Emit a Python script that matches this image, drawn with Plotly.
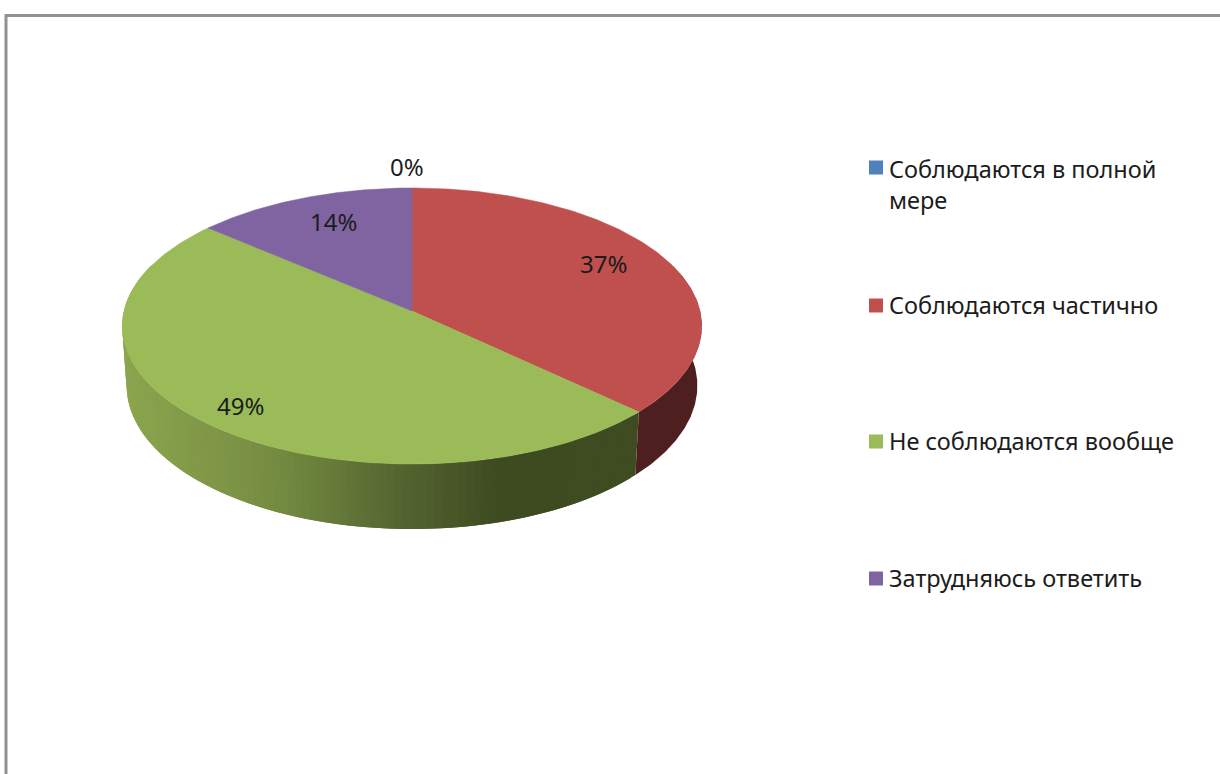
import numpy as np
import plotly.graph_objects as go

categories = ["Соблюдаются в полной<br>мере", "Соблюдаются частично", "Не соблюдаются вообще", "Затрудняюсь ответить"]
values = [0, 37, 49.3, 13.7]
top_colors = ["#4f81bd", "#c0504d", "#9bbb59", "#8064a2"]
wall_colors = ["#2a4365", "#4d1f1e", None, "#4a3a5e"]

FONT = "Noto Sans"
TEXT = "#1c1c1c"
CX, CY, R, PERSP, YK = 412.0, 311.0, 288.0, -0.1087, 102.6


def project(t, f=1.0):
    u, v = np.sin(t) * f, -np.cos(t) * f
    d = 1 + PERSP * v
    return CX + R * u / d, (CY + YK * v) / d


def project_bottom(t):
    x, y = project(t)
    return CX + (x - CX) * 0.985, y + 59 + 6 * (-np.cos(t))


def green_wall(x):
    xs = [125, 250, 300, 400, 500, 640]
    rgb = [np.interp(x, xs, ch) for ch in ([139, 122, 110, 85, 62, 64], [165, 145, 133, 101, 75, 75], [78, 68, 62, 49, 33, 33])]
    return "rgb(%d,%d,%d)" % tuple(rgb)


total = sum(values)
edges = np.radians(np.cumsum([0] + values) / total * 360)

fig = go.Figure()

# side walls; the green one is cut into overlapping strips for its shading
for i in range(len(values)):
    a, b = edges[i], edges[i + 1]
    a2, b2 = max(a, np.radians(70)), min(b, np.radians(290))
    if b2 <= a2:
        continue
    if wall_colors[i] is not None:
        ts = np.linspace(a2, b2, 120)
        xt, yt = project(ts)
        xb, yb = project_bottom(ts)
        fig.add_trace(go.Scatter(x=np.r_[xt, xb[::-1]], y=np.r_[yt, yb[::-1]], mode="lines", fill="toself",
                                 fillcolor=wall_colors[i], line=dict(width=0), showlegend=False, hoverinfo="skip"))
        continue
    n = 110
    breaks = np.linspace(a2, b2, n + 1)
    step = breaks[1] - breaks[0]
    for s in range(n):
        end = min(breaks[s + 1] + step, b2)
        ts = np.linspace(breaks[s], end, 5)
        xt, yt = project(ts)
        xb, yb = project_bottom(ts)
        col = green_wall(float(project(breaks[s] + step / 2)[0]))
        fig.add_trace(go.Scatter(x=np.r_[xt, xb[::-1]], y=np.r_[yt, yb[::-1]], mode="lines", fill="toself",
                                 fillcolor=col, line=dict(width=0), showlegend=False, hoverinfo="skip"))

# top faces
for i in range(len(values)):
    a, b = edges[i], edges[i + 1]
    if b <= a:
        continue
    ts = np.linspace(a, b, 200)
    x, y = project(ts)
    fig.add_trace(go.Scatter(x=np.r_[CX, x, CX], y=np.r_[CY, y, CY], mode="lines", fill="toself",
                             fillcolor=top_colors[i], line=dict(color=top_colors[i], width=0.5),
                             showlegend=False, hoverinfo="skip", name=categories[i]))

# percentage labels
radial = [1.17, 0.76, 0.85, 0.75]
shift_x = [-5, -3, 4, 5]
shift_y = [-3, -8, 2, -3]
mids = (edges[:-1] + edges[1:]) / 2
annotations = []
for i in range(len(values)):
    x, y = project(mids[i], radial[i])
    annotations.append(dict(x=float(x), y=float(y), xref="x", yref="y", text=f"{round(values[i] / total * 100)}%",
                            showarrow=False, xshift=shift_x[i], yshift=-shift_y[i],
                            font=dict(family=FONT, size=24, color=TEXT)))

# legend column, placed to the reference's uneven row spacing
key_x, text_x = 876, 887
key_y = [167.5, 305.5, 441.5, 578.5]
text_y = [184, 305, 441, 578]
for name, col, ky, ty in zip(categories, top_colors, key_y, text_y):
    fig.add_trace(go.Scatter(x=[key_x], y=[ky], mode="markers", name=name, showlegend=False, hoverinfo="skip",
                             marker=dict(symbol="square", size=14, color=col)))
    annotations.append(dict(x=text_x, y=ty, xref="x", yref="y", text=name, showarrow=False, xanchor="left",
                            yanchor="middle", align="left", font=dict(family=FONT, size=23.5, color=TEXT)))

fig.update_layout(
    width=1220, height=774, margin=dict(l=0, r=0, t=0, b=0),
    paper_bgcolor="white", plot_bgcolor="white", showlegend=False,
    xaxis=dict(range=[0, 1220], visible=False, fixedrange=True),
    yaxis=dict(range=[774, 0], visible=False, fixedrange=True),
    annotations=annotations,
    shapes=[dict(type="line", xref="x", yref="y", x0=5, x1=1220, y0=15.5, y1=15.5, line=dict(color="#919191", width=3)),
            dict(type="line", xref="x", yref="y", x0=6, x1=6, y0=14, y1=774, line=dict(color="#919191", width=3))],
)
fig.write_html("out.html", config={"displayModeBar": False},
               post_script="document.body.style.margin='0';document.documentElement.style.overflow='hidden';")
